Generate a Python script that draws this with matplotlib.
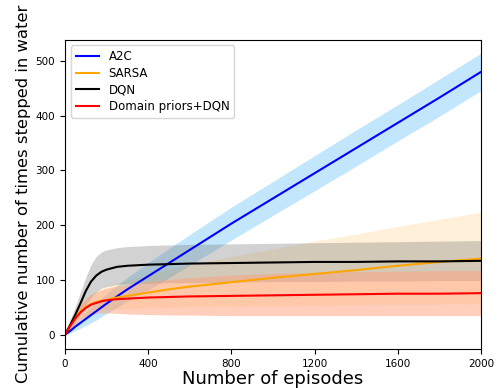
import matplotlib
matplotlib.use("Agg")
import matplotlib.pyplot as plt
import numpy as np

episodes = [0, 25, 50, 75, 100, 125, 150, 175, 200, 250, 300, 400, 500, 600,
            800, 1000, 1200, 1400, 1600, 1800, 2000]

# A2C: mean and half width of the band
a2c_mean = [0, 7, 15, 22, 29, 36, 43, 50, 57, 70, 83, 107, 131, 155,
            203, 249, 295, 341, 387, 433, 480]
a2c_half = [0, 4, 7, 10, 12, 14, 16, 17, 18, 20, 22, 25, 27, 28,
            30, 31, 32, 33, 33, 34, 34]

sarsa_mean = [0, 17, 32, 43, 51, 56, 60, 62, 64, 68, 71, 77, 83, 88,
              96, 104, 111, 118, 126, 133, 139]
sarsa_upper = [0, 24, 44, 58, 68, 75, 80, 84, 88, 95, 100, 110, 120, 128,
               143, 157, 171, 184, 198, 211, 224]
sarsa_lower = [0, 10, 22, 30, 36, 40, 43, 45, 46, 47, 48, 49, 50, 51,
               52, 53, 54, 55, 56, 56, 57]

dqn_mean = [0, 18, 37, 58, 80, 97, 108, 115, 119, 124, 126, 128, 129, 130,
            131, 132, 133, 133, 134, 134, 135]
dqn_upper = [0, 28, 52, 78, 105, 128, 143, 151, 155, 159, 161, 163, 164, 165,
             166, 167, 168, 169, 170, 171, 172]
dqn_lower = [0, 10, 23, 38, 55, 68, 78, 85, 88, 92, 93, 94, 95, 95,
             96, 97, 97, 98, 98, 99, 99]

prior_mean = [0, 16, 30, 41, 49, 55, 58, 61, 63, 65, 66, 68, 69, 70,
              71, 72, 73, 74, 75, 75, 76]
prior_upper = [0, 22, 40, 55, 65, 73, 78, 82, 85, 89, 92, 97, 101, 104,
               109, 112, 114, 115, 116, 117, 117]
prior_lower = [0, 10, 20, 28, 33, 37, 39, 40, 40, 39, 38, 37, 36, 36,
               35, 35, 35, 35, 35, 35, 35]

x = np.array(episodes)
a2c_mean = np.array(a2c_mean)
a2c_half = np.array(a2c_half)

fig = plt.figure(figsize=(5, 3.88), dpi=100)
ax = fig.add_axes([0.13, 0.1005, 0.832, 0.7975])

# bands first
ax.fill_between(x, a2c_mean - a2c_half, a2c_mean + a2c_half,
                color="lightskyblue", alpha=0.5, linewidth=0)
ax.fill_between(x, sarsa_lower, sarsa_upper, color="orange", alpha=0.15, linewidth=0)
ax.fill_between(x, dqn_lower, dqn_upper, color="gray", alpha=0.35, linewidth=0)
ax.fill_between(x, prior_lower, prior_upper, color="lightsalmon", alpha=0.5, linewidth=0)

ax.plot(x, a2c_mean, color="blue", lw=1.5, label="A2C")
ax.plot(x, sarsa_mean, color="orange", lw=1.5, label="SARSA")
ax.plot(x, dqn_mean, color="black", lw=1.5, label="DQN")
ax.plot(x, prior_mean, color="red", lw=1.5, label="Domain priors+DQN")

ax.set_xlim(0, 2000)
ax.set_ylim(-26, 539)
ax.set_xticks([0, 400, 800, 1200, 1600, 2000])
ax.set_yticks([0, 100, 200, 300, 400, 500])
ax.tick_params(labelsize=7.5)
ax.set_xlabel("Number of episodes", fontsize=13, labelpad=1)
ax.set_ylabel("Cumulative number of times stepped in water", fontsize=11.8, labelpad=3)
ax.legend(loc="upper left", fontsize=8.5, labelspacing=0.3)

fig.savefig("out.png", dpi=100)
